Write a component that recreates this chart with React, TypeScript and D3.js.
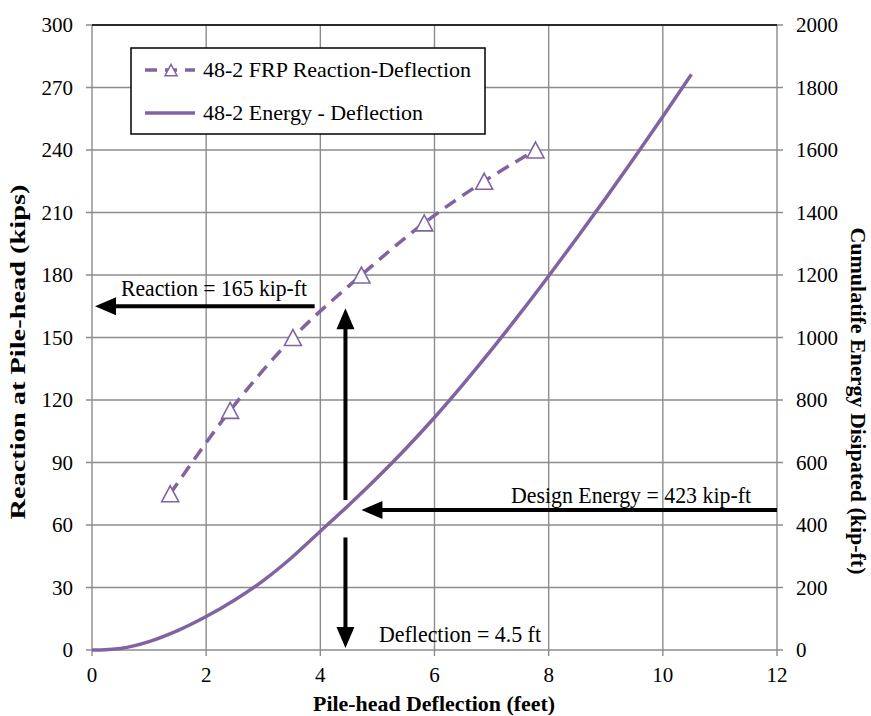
import * as d3 from "d3";

// Reaction-deflection test points (feet, kips)
const reactionDefl = [1.37, 2.42, 3.52, 4.72, 5.82, 6.87, 7.77];
const reactionKips = [75, 115, 150, 180, 205, 225, 240];

// Cumulative energy curve (feet, kip-ft)
const energyDefl = [0, 0.5, 1, 1.5, 2, 2.5, 3, 3.5, 4, 4.5, 5, 5.5, 6, 6.5, 7, 7.5, 8, 8.5, 9, 9.5, 10, 10.5];
const energyKipFt = [0, 5, 27, 62, 107, 160, 222, 296, 380, 464, 552, 645, 744, 850, 961, 1077, 1197, 1320, 1446, 1575, 1707, 1842];

const xTicks = [0, 2, 4, 6, 8, 10, 12];
const leftTicks = [0, 30, 60, 90, 120, 150, 180, 210, 240, 270, 300];
const rightTicks = [0, 200, 400, 600, 800, 1000, 1200, 1400, 1600, 1800, 2000];

const seriesNames = ["48-2 FRP Reaction-Deflection", "48-2 Energy - Deflection"];

// annotation anchors
const reactionLevel = 165;
const reactionArrowFrom = 3.9;
const designDefl = 4.44;
const upArrowFrom = 72;
const downArrowFrom = 54;
const energyArrowLevel = 448;
const energyArrowTip = 4.72;

const W = 871;
const H = 716;
const PURPLE = "#8064a2";
const GRID = "#8c8c8c";
const FONT = '"Liberation Serif", "Times New Roman", Times, serif';

const x = d3.scaleLinear().domain([0, 12]).range([92, 777]);
const yL = d3.scaleLinear().domain([0, 300]).range([650, 25]);
const yR = d3.scaleLinear().domain([0, 2000]).range([650, 25]);

function tri(cx: number, cy: number, s: number) {
  const h = s * 0.94;
  return `M${cx},${cy - h / 2}L${cx + s / 2},${cy + h / 2}L${cx - s / 2},${cy + h / 2}Z`;
}

// arrow: shaft from (x1,y1) to tip (x2,y2)
function Arrow({ x1, y1, x2, y2 }: { x1: number; y1: number; x2: number; y2: number }) {
  const len = 21;
  const half = 9;
  const dx = x2 - x1;
  const dy = y2 - y1;
  const d = Math.hypot(dx, dy);
  const ux = dx / d;
  const uy = dy / d;
  const bx = x2 - ux * len;
  const by = y2 - uy * len;
  const head = `M${x2},${y2}L${bx - uy * half},${by + ux * half}L${bx + uy * half},${by - ux * half}Z`;
  return (
    <g>
      <line x1={x1} y1={y1} x2={bx + ux * 2} y2={by + uy * 2} stroke="#000" strokeWidth={4} />
      <path d={head} fill="#000" />
    </g>
  );
}

export default function App() {
  const energyLine = d3
    .line<number>()
    .x((_, i) => x(energyDefl[i]))
    .y((v) => yR(v))
    .curve(d3.curveCatmullRom);
  const reactionLine = d3
    .line<number>()
    .x((_, i) => x(reactionDefl[i]))
    .y((v) => yL(v))
    .curve(d3.curveCatmullRom);

  return (
    <svg
      width={W}
      height={H}
      style={{ position: "absolute", left: 0, top: 0, background: "#fff", fontFamily: FONT }}
    >
      {/* grid */}
      {xTicks.map((t) => (
        <line key={"vx" + t} x1={x(t)} x2={x(t)} y1={25} y2={656} stroke={GRID} strokeWidth={1.4} />
      ))}
      {leftTicks.map((t) => (
        <line key={"hy" + t} x1={86} x2={783} y1={yL(t)} y2={yL(t)} stroke={GRID} strokeWidth={1.4} />
      ))}
      <line x1={92} x2={777} y1={25} y2={25} stroke="#000" strokeWidth={1.5} />

      {/* tick labels */}
      {leftTicks.map((t) => (
        <text key={"l" + t} x={73} y={yL(t)} dy="0.35em" textAnchor="end" fontSize={21}>
          {t}
        </text>
      ))}
      {rightTicks.map((t) => (
        <text key={"r" + t} x={796} y={yR(t)} dy="0.35em" textAnchor="start" fontSize={21}>
          {t}
        </text>
      ))}
      {xTicks.map((t) => (
        <text key={"b" + t} x={x(t)} y={675} dy="0.35em" textAnchor="middle" fontSize={21}>
          {t}
        </text>
      ))}

      {/* axis titles */}
      <text x={313} y={711} fontSize={21} fontWeight="bold" textLength={242} lengthAdjust="spacingAndGlyphs">
        Pile-head Deflection (feet)
      </text>
      <text
        transform="translate(25,352) rotate(-90)"
        textAnchor="middle"
        fontSize={22}
        fontWeight="bold"
        textLength={335}
        lengthAdjust="spacingAndGlyphs"
      >
        {"Reaction at Pile-head  (kips)"}
      </text>
      <text
        transform="translate(851,401) rotate(90)"
        textAnchor="middle"
        fontSize={21}
        fontWeight="bold"
        textLength={347}
        lengthAdjust="spacingAndGlyphs"
      >
        Cumulatife Energy Disipated (kip-ft)
      </text>

      {/* series */}
      <path d={energyLine(energyKipFt) ?? ""} fill="none" stroke={PURPLE} strokeWidth={3.5} />
      <path
        d={reactionLine(reactionKips) ?? ""}
        fill="none"
        stroke={PURPLE}
        strokeWidth={3.5}
        strokeDasharray="13,8"
      />
      {reactionKips.map((v, i) => (
        <path key={"m" + i} d={tri(x(reactionDefl[i]), yL(v), 17)} fill="#fff" stroke={PURPLE} strokeWidth={1.6} />
      ))}

      {/* annotations */}
      <Arrow x1={x(reactionArrowFrom)} y1={yL(reactionLevel)} x2={95} y2={yL(reactionLevel)} />
      <Arrow x1={x(designDefl)} y1={yL(upArrowFrom)} x2={x(designDefl)} y2={yL(reactionLevel) + 2} />
      <Arrow x1={x(designDefl)} y1={yL(downArrowFrom)} x2={x(designDefl)} y2={648} />
      <Arrow x1={x(12)} y1={yR(energyArrowLevel)} x2={x(energyArrowTip)} y2={yR(energyArrowLevel)} />
      <g fontSize={23}>
        <text x={121} y={296} textLength={186} lengthAdjust="spacingAndGlyphs">
          Reaction = 165 kip-ft
        </text>
        <text x={511} y={503} textLength={240} lengthAdjust="spacingAndGlyphs">
          Design Energy = 423 kip-ft
        </text>
        <text x={379} y={642} textLength={162} lengthAdjust="spacingAndGlyphs">
          Deflection = 4.5 ft
        </text>
      </g>

      {/* legend */}
      <rect x={131} y={48} width={354} height={86} fill="#fff" stroke="#000" strokeWidth={1.5} />
      <line x1={145} x2={195} y1={70} y2={70} stroke={PURPLE} strokeWidth={3.5} strokeDasharray="12,8" />
      <path d={tri(171, 70, 12)} fill="#fff" stroke={PURPLE} strokeWidth={1.5} />
      <line x1={145} x2={195} y1={113} y2={113} stroke={PURPLE} strokeWidth={3.5} />
      <g fontSize={22}>
        <text x={203} y={77} textLength={268} lengthAdjust="spacingAndGlyphs">
          {seriesNames[0]}
        </text>
        <text x={203} y={120} textLength={220} lengthAdjust="spacingAndGlyphs">
          {seriesNames[1]}
        </text>
      </g>
    </svg>
  );
}
